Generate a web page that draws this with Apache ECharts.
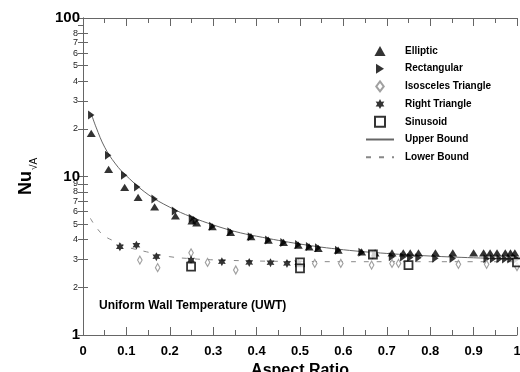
<!DOCTYPE html>
<html>
<head>
<meta charset="utf-8">
<script src="https://cdn.jsdelivr.net/npm/echarts@6/dist/echarts.min.js"></script>
<style>html,body{margin:0;padding:0;background:#fff}#c{width:520px;height:372px}</style>
</head>
<body>
<div id="c"></div>
<script>
// ---- data ----
const arElliptic = [0.019,0.059,0.096,0.127,0.165,0.213,0.251,0.262,0.298,0.34,0.387,0.427,0.462,0.496,0.521,0.542,0.588,0.642,0.673,0.712,0.738,0.754,0.773,0.812,0.852,0.9,0.923,0.938,0.954,0.973,0.985,0.995];
const nuElliptic = [18.7,11.1,8.53,7.38,6.44,5.65,5.25,5.1,4.82,4.44,4.17,3.97,3.84,3.69,3.6,3.52,3.43,3.35,3.3,3.3,3.3,3.3,3.3,3.3,3.3,3.3,3.3,3.3,3.3,3.3,3.3,3.3];
const arRect = [0.019,0.058,0.095,0.125,0.165,0.212,0.251,0.26,0.298,0.34,0.387,0.427,0.462,0.496,0.521,0.542,0.588,0.642,0.673,0.712,0.738,0.754,0.773,0.812,0.852,0.93,0.945,0.96,0.973,0.985,1.0];
const nuRect = [24.4,13.6,10.2,8.6,7.2,6.05,5.45,5.3,4.86,4.48,4.17,3.97,3.84,3.72,3.62,3.55,3.43,3.33,3.2,3.12,3.1,3.08,3.07,3.05,3.04,3.03,3.03,3.03,3.02,3.02,3.02];
const arIso = [0.131,0.172,0.249,0.287,0.352,0.534,0.594,0.665,0.712,0.727,0.865,0.93,1.0];
const nuIso = [2.97,2.66,3.3,2.87,2.57,2.83,2.83,2.76,2.83,2.83,2.79,2.79,2.7];
const arRight = [0.085,0.123,0.169,0.249,0.32,0.383,0.432,0.47,0.496];
const nuRight = [3.6,3.69,3.12,2.97,2.9,2.87,2.86,2.83,2.86];
const arSin = [0.249,0.5,0.5,0.668,0.75,1.0];
const nuSin = [2.7,2.87,2.63,3.22,2.76,2.87];
const arUpper = [0.02,0.03,0.05,0.075,0.1,0.15,0.2,0.25,0.3,0.35,0.4,0.5,0.6,0.7,0.8,0.9,1.0];
const nuUpper = [24.5,20.5,15.3,12.0,10.1,7.7,6.4,5.55,4.95,4.5,4.2,3.75,3.45,3.27,3.15,3.07,3.02];
const arLower = [0.017,0.03,0.05,0.085,0.1,0.146,0.2,0.25,0.3,0.4,0.5,0.6,0.7,0.8,0.9,1.0];
const nuLower = [5.45,4.8,4.2,3.78,3.6,3.35,3.12,3.03,2.98,2.93,2.91,2.9,2.9,2.9,2.9,2.9];
const yTicks = [1,2,3,4,5,6,7,8,9,10,20,30,40,50,60,70,80,90,100];

const zip = (a,b) => a.map((v,i) => [v,b[i]]);
function starPath(n, rIn) {
  let d = '';
  for (let i = 0; i < 2*n; i++) {
    const ang = -Math.PI/2 + i*Math.PI/n;
    const r = i % 2 ? rIn : 1;
    d += (i ? 'L' : 'M') + (r*Math.cos(ang)).toFixed(3) + ',' + (r*Math.sin(ang)).toFixed(3);
  }
  return 'path://' + d + 'Z';
}
const SYM_UP = 'path://M5,0L10,9L0,9Z';
const SYM_RIGHT = 'path://M0,0L8,5L0,10Z';
const SYM_DIAMOND = 'path://M3,0L6,4L3,8L0,4Z';
const SYM_SQUARE = 'path://M0,0L10,0L10,10L0,10Z';
const FONT = 'Liberation Sans, Arial, sans-serif';
const axisGray = '#666';

const chart = echarts.init(document.getElementById('c'));
const xBase = {
  type: 'value', min: 0, max: 1, interval: 0.1,
  axisLine: {show: true, lineStyle: {color: axisGray, width: 1}},
  axisTick: {show: true, inside: true, length: 8, lineStyle: {color: axisGray}},
  minorTick: {show: true, splitNumber: 2, length: 5, lineStyle: {color: axisGray}},
  splitLine: {show: false}
};
const yBase = {
  type: 'log', logBase: 10, min: 1, max: 100,
  axisLine: {show: true, lineStyle: {color: axisGray, width: 1}},
  axisTick: {show: true, inside: true, length: 5, customValues: yTicks, lineStyle: {color: axisGray}},
  splitLine: {show: false}
};
chart.setOption({
  animation: false,
  backgroundColor: '#fff',
  grid: {left: 83, right: 3, top: 18, bottom: 37, containLabel: false, outerBoundsMode: 'none'},
  xAxis: [
    Object.assign({}, xBase, {
      position: 'bottom',
      name: 'Aspect Ratio', nameLocation: 'middle', nameGap: 22,
      nameTextStyle: {fontFamily: FONT, fontWeight: 'bold', fontSize: 16, color: '#000'},
      axisLabel: {show: true, margin: 10, fontFamily: FONT, fontWeight: 'bold', fontSize: 13, color: '#000',
        hideOverlap: false, formatter: v => String(Math.round(v*10)/10)}
    }),
    Object.assign({}, xBase, {position: 'top', axisLabel: {show: false}})
  ],
  yAxis: [
    Object.assign({}, yBase, {
      position: 'left',
      name: '{a|Nu}{b|√A}', nameLocation: 'middle', nameGap: 46,
      nameTextStyle: {fontFamily: FONT, color: '#000',
        rich: {a: {fontFamily: FONT, fontWeight: 'bold', fontSize: 18, verticalAlign: 'top', lineHeight: 20},
               b: {fontFamily: FONT, fontSize: 10, verticalAlign: 'top', lineHeight: 10, padding: [12,0,0,1]}}},
      axisLabel: {show: true, margin: 3, customValues: yTicks, hideOverlap: false,
        showMinLabel: true, showMaxLabel: true,
        formatter: v => {
          const lg = Math.log10(v);
          if (Math.abs(lg - Math.round(lg)) < 1e-9) return '{big|' + Math.round(v) + '}';
          const d = Math.round(v / Math.pow(10, Math.floor(lg + 1e-9)));
          return '{small|' + d + '}';
        },
        rich: {
          big: {fontFamily: FONT, fontWeight: 'bold', fontSize: 15, color: '#000'},
          small: {fontFamily: FONT, fontSize: 9, color: '#222', padding: [0,2,0,0]}
        }}
    }),
    Object.assign({}, yBase, {position: 'right', axisLabel: {show: false}})
  ],
  legend: {
    orient: 'vertical', left: 360, top: 40, itemWidth: 28, itemHeight: 10, itemGap: 5.7,
    symbolKeepAspect: true,
    textStyle: {fontFamily: FONT, fontWeight: 'bold', fontSize: 10, color: '#000', lineHeight: 12, padding: [0,0,0,6]},
    data: ['Elliptic','Rectangular','Isosceles Triangle','Right Triangle','Sinusoid','Upper Bound','Lower Bound']
  },
  graphic: [{
    type: 'text', left: 99, top: 300,
    style: {text: 'Uniform Wall Temperature (UWT)', font: 'bold 12px ' + FONT, fill: '#000'}
  }],
  series: [
    {name: 'Upper Bound', type: 'line', smooth: 0.4, symbol: 'none', data: zip(arUpper, nuUpper),
      lineStyle: {color: '#666', width: 1}, itemStyle: {color: '#666', opacity: 0}, z: 1},
    {name: 'Lower Bound', type: 'line', smooth: 0.4, symbol: 'none', data: zip(arLower, nuLower),
      lineStyle: {color: '#888', width: 1, type: [5, 8]}, itemStyle: {color: '#888', opacity: 0}, z: 1},
    {name: 'Elliptic', type: 'scatter', symbol: SYM_UP, symbolSize: [9, 8], symbolKeepAspect: true, data: zip(arElliptic, nuElliptic),
      itemStyle: {color: '#000'}, z: 3},
    {name: 'Rectangular', type: 'scatter', symbol: SYM_RIGHT, symbolSize: [8, 9], symbolKeepAspect: true, data: zip(arRect, nuRect),
      itemStyle: {color: '#000'}, z: 3},
    {name: 'Isosceles Triangle', type: 'scatter', symbol: SYM_DIAMOND, symbolSize: [6, 8], symbolKeepAspect: true, data: zip(arIso, nuIso),
      itemStyle: {color: '#fff', borderColor: '#888', borderWidth: 1.2}, z: 3},
    {name: 'Right Triangle', type: 'scatter', symbol: starPath(6, 0.55), symbolSize: 9, symbolKeepAspect: true, data: zip(arRight, nuRight),
      itemStyle: {color: '#000'}, z: 3},
    {name: 'Sinusoid', type: 'scatter', symbol: SYM_SQUARE, symbolSize: 8, symbolKeepAspect: true, data: zip(arSin, nuSin),
      itemStyle: {color: '#fff', borderColor: '#000', borderWidth: 1.8}, z: 4}
  ]
});
</script>
</body>
</html>
